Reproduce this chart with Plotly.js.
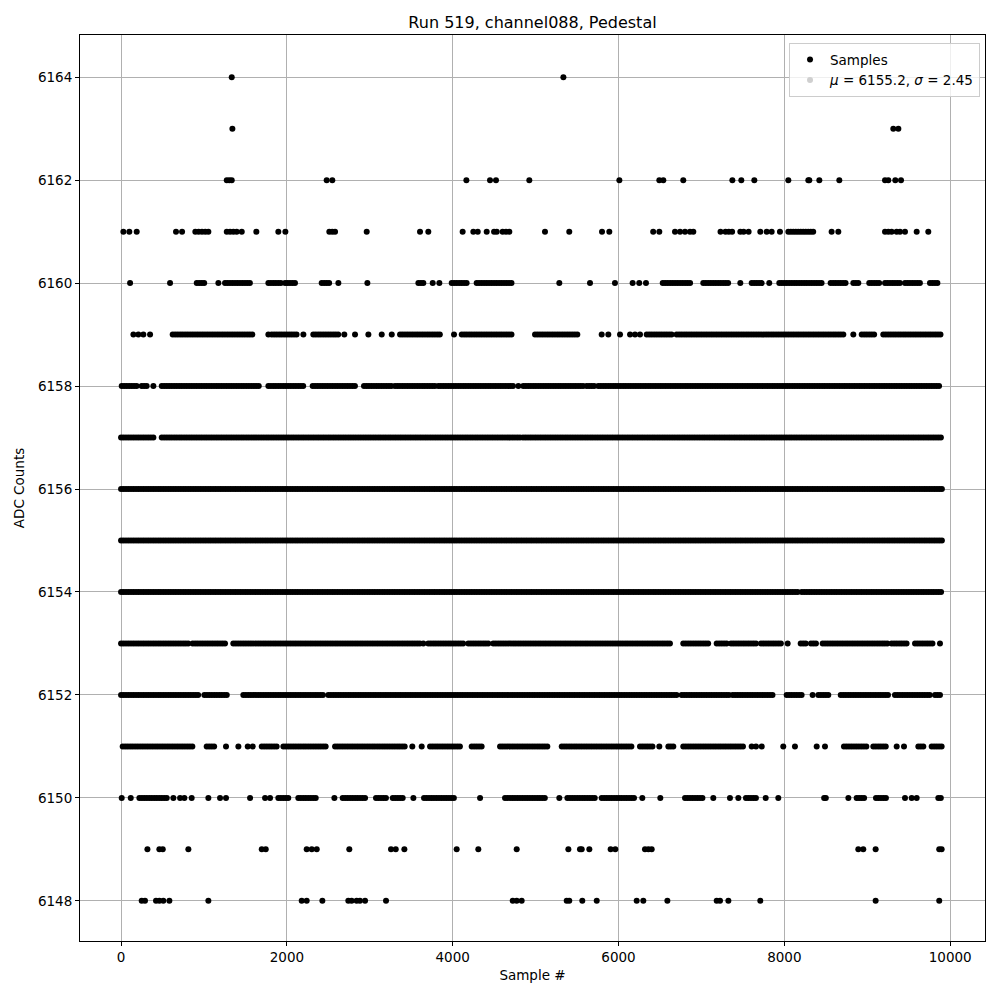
<!DOCTYPE html>
<html>
<head>
<meta charset="utf-8">
<script src="https://cdn.plot.ly/plotly-3.0.1.min.js"></script>
<style>html,body{margin:0;padding:0;background:#fff;}#chart{width:1000px;height:1000px;}</style>
</head>
<body>
<div id="chart"></div>
<script>
// Sample indices, per ADC level.
// A number is a single sample; a [start, end] pair is a run of samples that appears continuous.
const s6164 = [1335, 5335];
const s6163 = [1343, 9314, 9375];
const s6162 = [1275, 1306, 1335, 2480, 2548, 4165, 4450, 4522, 4924, 6010, 6492, 6540, 6781, 7373, 7481, 7638, 8048, 8289, 8301, 8422, 8663, 9214, 9254, 9338, 9407];
const s6161 = [28, 100, 189, 663, 736, 896, 936, 976, 1016, 1053, 1275, 1315, 1355, 1395, 1456, 1632, 1897, 1982, 2512, 2547, 2581, 2963, 3606, 3706, 4120, 4249, 4302, 4410, 4499, 4531, 4602, 4643, 4683, 5113, 5406, 5801, 5889, 6418, 6492, 6681, 6742, 6802, 6862, 6902, 7230, 7290, 7330, 7370, 7469, 7509, 7569, 7710, 7787, 7847, 7947, [8048, 8349], 8570, 8651, 9214, 9254, 9294, 9354, 9395, 9455, 9596, 9736];
const s6160 = [109, 591, [913, 1025], 1174, [1254, 1556], [1777, 1938], [1978, 2119], [2420, 2512], 2621, 2971, [3586, 3646], 3759, 3839, [3988, 4189], [4289, 4712], 5286, 5656, 5957, 6170, 6250, 6331, [6533, 6883], [7022, 7344], 7469, [7606, 7746], 7818, [7939, 8470], [8558, 8743], [8832, 8912], [9024, 9153], [9214, 9403], [9455, 9656], [9756, 9869]];
const s6159 = [149, 209, 269, 350, [623, 1604], 1777, [1817, 2119], 2199, [2319, 2621], 2693, 2822, 2983, 3144, 3265, [3365, 3867], 4016, [4109, 4712], [4993, 5516], 5797, 5877, 6018, 6139, 6199, 6259, [6340, 6641], [6701, 8711], 8832, [8933, 9093], [9193, 9897]];
const s6158 = [[8, 209], [249, 310], 390, [491, 1676], [1777, 2219], [2311, 2842], [2930, 3265], [3304, 3798], [3827, 4731], 4792, [4852, 5596], [5616, 5716], [5756, 9885]];
const s6157 = [[0, 410], [491, 4812], [4848, 9900]];
const s6156 = [[0, 9900]];
const s6155 = [[0, 9900]];
const s6154 = [[0, 8160], [8210, 9900]];
const s6153 = [[0, 824], [864, 1282], [1354, 3626], 3646, [3706, 4149], [4189, 4430], [4490, 6641], [6781, 7103], [7184, 7305], [7357, 7678], [7718, 7959], 8040, [8197, 8269], [8321, 8410], [8462, 9254], [9294, 9495], [9576, 9809], [9877, 9900]];
const s6152 = [[0, 953], [1005, 1282], [1475, 2460], [2500, 6701], [6762, 7344], [7377, 7867], [8028, 8209], 8341, [8410, 8551], [8680, 9266], [9334, 9756], [9817, 9900]];
const s6151 = [[20, 872], [1033, 1134], 1266, 1415, 1528, 1588, [1697, 1878], [1958, 2481], [2581, 3425], 3513, 3626, [3727, 4109], [4229, 4370], [4571, 5154], [5315, 6178], [6259, 6420], 6492, [6601, 6669], [6781, 7505], 7606, 7658, 7727, 7987, 8128, 8390, 8490, [8719, 9013], [9073, 9226], 9355, 9443, [9616, 9696], [9777, 9900]];
const s6150 = [8, 117, [221, 571], 631, 712, 764, 852, 1053, 1194, 1266, 1556, 1737, 1797, [1897, 2018], [2138, 2360], 2573, [2673, 2943], [3075, 3212], [3277, 3405], 3526, [3654, 4028], 4330, [4631, 5134], 5286, [5383, 5716], [5797, 6187], 6287, 6504, [6802, 7015], 7143, 7344, 7445, [7537, 7678], 7775, 7927, 8480, 8500, 8772, [8872, 8984], [9105, 9226], 9455, 9536, 9596, [9857, 9900]];
const s6149 = [318, 462, 503, 812, 1697, 1745, 2239, 2300, 2360, 2753, 3256, 3313, 3417, 4048, 4309, 4772, 5395, 5535, 5556, 5648, 5905, 5961, 6319, 6360, 6400, 8892, 8952, 9101, 9868, 9897];
const s6148 = [249, 289, 422, 462, 510, 583, 1053, 2179, 2239, 2428, 2741, 2781, 2841, 2881, 2943, 3196, 4724, 4772, 4832, 5375, 5406, 5563, 5737, 6219, 6299, 6589, 7184, 7224, 7325, 7710, 9101, 9868];

const levels = [6148, 6149, 6150, 6151, 6152, 6153, 6154, 6155, 6156, 6157, 6158, 6159, 6160, 6161, 6162, 6163, 6164];
const samplesByLevel = [s6148, s6149, s6150, s6151, s6152, s6153, s6154, s6155, s6156, s6157, s6158, s6159, s6160, s6161, s6162, s6163, s6164];

const xTicks = [0, 2000, 4000, 6000, 8000, 10000];
const yTicks = [6148, 6150, 6152, 6154, 6156, 6158, 6160, 6162, 6164];
const titleText = 'Run 519, channel088, Pedestal';
const seriesName = 'Samples';
const statsLabel = '<i>μ</i> = 6155.2, <i>σ</i> = 2.45';

const RUN_STEP = 30; // sample spacing used when a run looks continuous
const xs = [], ys = [];
levels.forEach((lvl, i) => {
  samplesByLevel[i].forEach(item => {
    if (Array.isArray(item)) {
      for (let s = item[0]; s <= item[1]; s += RUN_STEP) { xs.push(s); ys.push(lvl); }
    } else { xs.push(item); ys.push(lvl); }
  });
});

const font = 'DejaVu Sans, sans-serif';
const traces = [
  {x: xs, y: ys, type: 'scatter', mode: 'markers', name: seriesName,
   marker: {color: '#000000', size: 6}, hoverinfo: 'skip'},
  {x: [null], y: [null], type: 'scatter', mode: 'markers', name: statsLabel,
   marker: {color: '#cfcfcf', size: 6}, hoverinfo: 'skip'}
];

const axisCommon = {
  showline: true, mirror: true, linecolor: '#000', linewidth: 1,
  showgrid: true, gridcolor: '#b0b0b0', gridwidth: 1,
  ticks: 'outside', ticklen: 4, tickcolor: '#000', tickwidth: 1,
  zeroline: false, tickformat: 'd',
  tickfont: {family: font, size: 13.5, color: '#000'}
};

const layout = {
  width: 1000, height: 1000,
  paper_bgcolor: '#fff', plot_bgcolor: '#fff',
  margin: {l: 80, r: 15, t: 35, b: 59},
  font: {family: font, color: '#000'},
  title: {text: titleText, x: 0.5325, xanchor: 'center', xref: 'container',
          y: 0.978, yanchor: 'middle', font: {family: font, size: 16, color: '#000'}},
  xaxis: Object.assign({}, axisCommon, {
    range: [-495, 10420], tickvals: xTicks,
    title: {text: 'Sample #', standoff: 6, font: {family: font, size: 13.5, color: '#000'}}
  }),
  yaxis: Object.assign({}, axisCommon, {
    range: [6147.22, 6164.82], tickvals: yTicks,
    title: {text: 'ADC Counts', standoff: 10, font: {family: font, size: 13.5, color: '#000'}}
  }),
  showlegend: true,
  legend: {x: 0.9945, y: 0.991, xanchor: 'right', yanchor: 'top',
           bgcolor: 'rgba(255,255,255,0.8)', bordercolor: '#cccccc', borderwidth: 1,
           font: {family: font, size: 13.5, color: '#000'}, tracegroupgap: 0,
           itemwidth: 30}
};

Plotly.newPlot('chart', traces, layout, {displayModeBar: false, staticPlot: true});
</script>
</body>
</html>
